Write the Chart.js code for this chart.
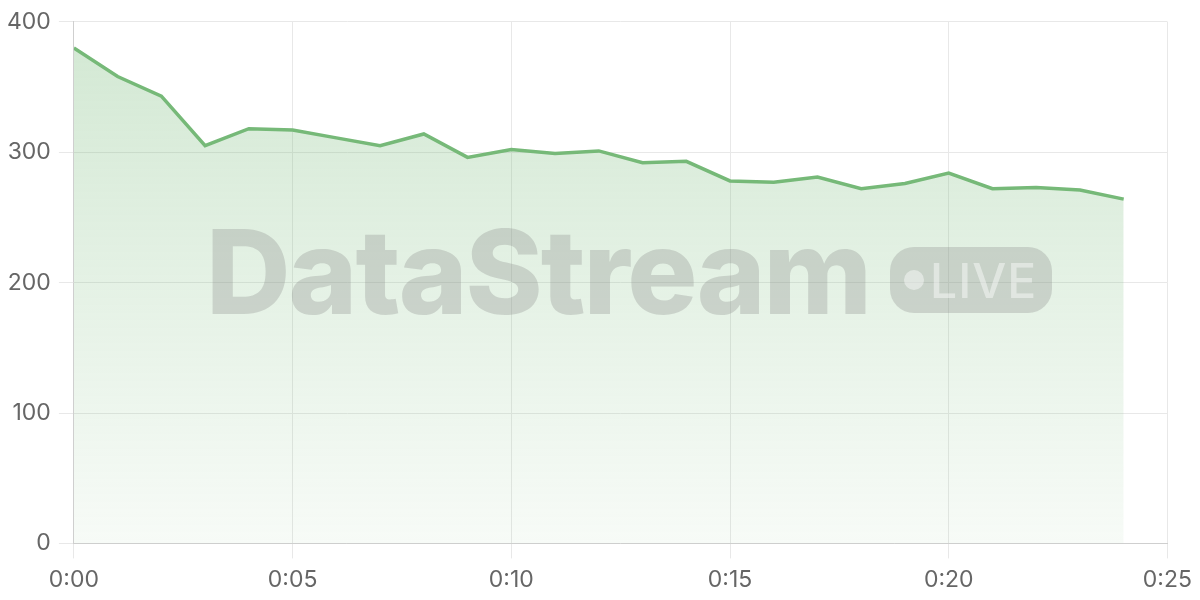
<!DOCTYPE html>
<html>
<head>
<meta charset="utf-8">
<script src="https://cdn.jsdelivr.net/npm/chart.js@4"></script>
<style>
  html, body { margin: 0; padding: 0; background: #fff; }
  .wrap { position: relative; width: 1200px; height: 600px; }
  .mark {
    position: absolute; left: 206px; top: 213px;
    display: flex; align-items: center; pointer-events: none;
  }
  .mark .name {
    font-family: Inter, sans-serif; font-weight: 800; font-size: 117px;
    letter-spacing: -2px; color: rgba(128,128,128,0.28);
    line-height: 1;
  }
  .mark .live {
    position: absolute; left: 684px; top: 34px;
    width: 162px; height: 66px; border-radius: 24px;
    background: rgba(128,128,128,0.28);
    display: flex; align-items: center;
  }
  .mark .dot {
    width: 20px; height: 20px; border-radius: 50%;
    background: rgba(255,255,255,0.45); margin-left: 14px;
  }
  .mark .txt {
    font-family: Inter, sans-serif; font-weight: 500; font-size: 48px;
    color: rgba(255,255,255,0.45); margin-left: 6px; letter-spacing: 1px;
  }
</style>
</head>
<body>
<div class="wrap">
  <canvas id="grafico" width="1200" height="600"></canvas>
  <div class="mark"><span class="name">DataStream</span><div class="live"><span class="dot"></span><span class="txt">LIVE</span></div></div>
</div>
<script>
/* ============== Dados ===========*/

const minutos = [0, 1, 2, 3, 4, 5, 6, 7, 8, 9, 10, 11, 12, 13, 14, 15, 16, 17, 18, 19, 20, 21, 22, 23, 24];
const valores = [380, 358, 343, 305, 318, 317, 311, 305, 314, 296, 302, 299, 301, 292, 293, 278, 277, 281, 272, 276, 284, 272, 273, 271, 264];
const yTicks = [0, 100, 200, 300, 400];
const xTicks = [0, 5, 10, 15, 20, 25];

const pontos = minutos.map((m, i) => ({ x: m, y: valores[i] }));

/* ============== Grafico ===========*/

const graf = document.getElementById('grafico');

function gradiente(context) {
  const chart = context.chart;
  const area = chart.chartArea;
  if (!area) return 'rgba(118, 185, 120, 0.2)';
  const g = chart.ctx.createLinearGradient(0, area.top, 0, area.bottom);
  g.addColorStop(0, 'rgba(118, 185, 120, 0.33)');
  g.addColorStop(1, 'rgba(118, 185, 120, 0.06)');
  return g;
}

const tickFont = { family: 'Inter', size: 23 };

const config = {
  type: 'line',
  data: {
    datasets: [{
      data: pontos,
      borderColor: 'rgb(118, 185, 120)',
      borderWidth: 3.5,
      backgroundColor: gradiente,
      fill: true,
      pointRadius: 0,
      tension: 0
    }]
  },
  options: {
    responsive: false,
    animation: false,
    layout: { padding: { top: 2, right: 8, left: -1, bottom: -2 } },
    plugins: { legend: { display: false }, tooltip: { enabled: false } },
    scales: {
      x: {
        type: 'linear',
        min: 0,
        max: 25,
        afterBuildTicks: axis => { axis.ticks = xTicks.map(v => ({ value: v })); },
        ticks: {
          color: '#666',
          font: tickFont,
          padding: 8,
          maxRotation: 0,
          callback: v => '0:' + String(v).padStart(2, '0')
        },
        grid: { color: '#e8e8e8', tickLength: 15 },
        border: { color: '#cfcfcf' }
      },
      y: {
        min: 0,
        max: 400,
        afterBuildTicks: axis => { axis.ticks = yTicks.map(v => ({ value: v })); },
        ticks: { color: '#666', font: tickFont, padding: 8 },
        grid: { color: '#e8e8e8', tickLength: 15 },
        border: { color: '#cfcfcf' }
      }
    }
  }
};

const myChart = new Chart(graf, config);
</script>
</body>
</html>
